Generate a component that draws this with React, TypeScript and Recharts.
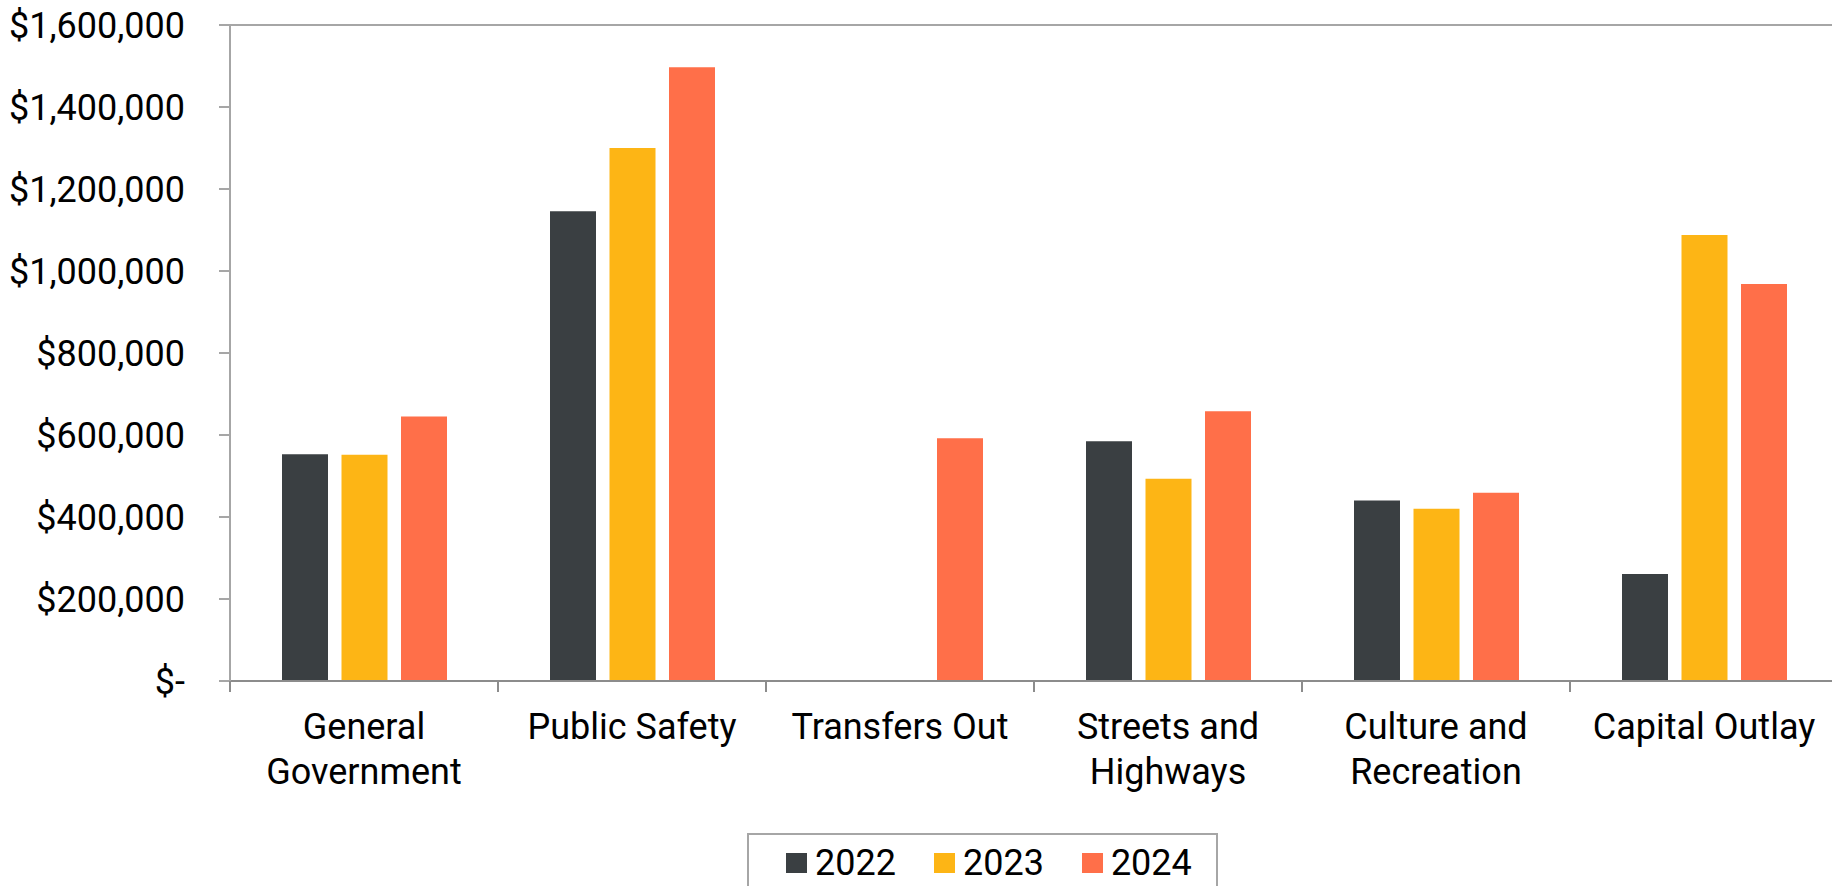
import React from 'react';
import { BarChart, Bar, XAxis, YAxis, Legend, ReferenceLine } from 'recharts';

const CATEGORIES = [
  'General Government',
  'Public Safety',
  'Transfers Out',
  'Streets and Highways',
  'Culture and Recreation',
  'Capital Outlay',
];
const VALUES_2022 = [553000, 1146000, 0, 585000, 440000, 261000];
const VALUES_2023 = [552000, 1300000, 0, 493000, 420000, 1088000];
const VALUES_2024 = [645000, 1497000, 592000, 658000, 459000, 968000];
const Y_TICKS = [0, 200000, 400000, 600000, 800000, 1000000, 1200000, 1400000, 1600000];

const COLORS = {
  y2022: '#3A3F42',
  y2023: '#FDB515',
  y2024: '#FF6F49',
  yAxis: '#A6A6A6',
  xAxis: '#8C8C8C',
};

const FONT = 'Roboto, "Liberation Sans", sans-serif';
const FONT_SIZE = 36;

const data = CATEGORIES.map((name, i) => ({
  name,
  '2022': VALUES_2022[i],
  '2023': VALUES_2023[i],
  '2024': VALUES_2024[i],
}));

const money = (v: number) => (v === 0 ? '$-' : '$' + v.toLocaleString('en-US'));

// greedy word wrap, Excel breaks the long labels onto two lines
const wrapLabel = (label: string, maxChars = 14) => {
  const lines: string[] = [];
  let current = '';
  label.split(' ').forEach((word) => {
    const next = current ? current + ' ' + word : word;
    if (next.length > maxChars && current) {
      lines.push(current);
      current = word;
    } else {
      current = next;
    }
  });
  if (current) lines.push(current);
  return lines;
};

// label plus Excel-style tick marks on the category boundaries
const CategoryTick = ({ x, y, payload, width, index, visibleTicksCount }: any) => {
  const half = width / visibleTicksCount / 2;
  const mark = (cx: number) => (
    <line x1={cx} x2={cx} y1={y} y2={y + 11} stroke={COLORS.xAxis} strokeWidth={2} />
  );
  return (
    <g>
      {mark(x - half)}
      {index === visibleTicksCount - 1 && mark(x + half)}
      <text x={x} y={y} textAnchor="middle" fontSize={FONT_SIZE} fontFamily={FONT} fill="#000">
        {wrapLabel(String(payload.value)).map((line, i) => (
          <tspan key={i} x={x} dy={i === 0 ? 58 : 45}>
            {line}
          </tspan>
        ))}
      </text>
    </g>
  );
};

const LegendBox = ({ payload }: any) => (
  <div
    style={{
      boxSizing: 'border-box',
      width: 471,
      height: 60,
      border: `2px solid ${COLORS.yAxis}`,
      borderBottom: 'none',
      display: 'flex',
      alignItems: 'flex-start',
      paddingLeft: 37,
      paddingTop: 8,
      fontFamily: FONT,
      fontSize: FONT_SIZE,
      color: '#000',
    }}
  >
    {(payload || []).map((entry: any, i: number) => (
      <div key={i} style={{ display: 'flex', alignItems: 'center', marginRight: 38 }}>
        <span style={{ width: 21, height: 20, background: entry.color, marginRight: 8, display: 'inline-block' }} />
        <span style={{ lineHeight: '40px' }}>{entry.value}</span>
      </div>
    ))}
  </div>
);

export default function App() {
  return (
    <div style={{ position: 'absolute', left: 0, top: 0, width: 1832, height: 886, overflow: 'hidden', background: '#fff' }}>
      <BarChart
        width={1838}
        height={886}
        data={data}
        margin={{ top: 25, right: 0, left: 0, bottom: 0 }}
        barSize={46}
        barGap={13.5}
        style={{ fontFamily: FONT }}
      >
        <XAxis
          dataKey="name"
          height={205}
          interval={0}
          axisLine={{ stroke: COLORS.xAxis, strokeWidth: 2 }}
          tickLine={false}
          tickSize={0}
          tickMargin={0}
          tick={<CategoryTick />}
        />
        <YAxis
          domain={[0, 1600000]}
          ticks={Y_TICKS}
          width={230}
          tickFormatter={money}
          tickSize={11}
          tickMargin={34}
          tick={{ fontSize: FONT_SIZE, fill: '#000', fontFamily: FONT }}
          axisLine={{ stroke: COLORS.yAxis, strokeWidth: 2 }}
          tickLine={{ stroke: COLORS.yAxis, strokeWidth: 2 }}
          interval={0}
        />
        <ReferenceLine y={1600000} stroke={COLORS.yAxis} strokeWidth={2} />
        <Legend
          layout="horizontal"
          verticalAlign="middle"
          align="center"
          content={<LegendBox />}
          wrapperStyle={{ left: 747, top: 833, width: 471, height: 60 }}
        />
        <Bar dataKey="2022" name="2022" fill={COLORS.y2022} isAnimationActive={false} />
        <Bar dataKey="2023" name="2023" fill={COLORS.y2023} isAnimationActive={false} />
        <Bar dataKey="2024" name="2024" fill={COLORS.y2024} isAnimationActive={false} />
      </BarChart>
    </div>
  );
}
